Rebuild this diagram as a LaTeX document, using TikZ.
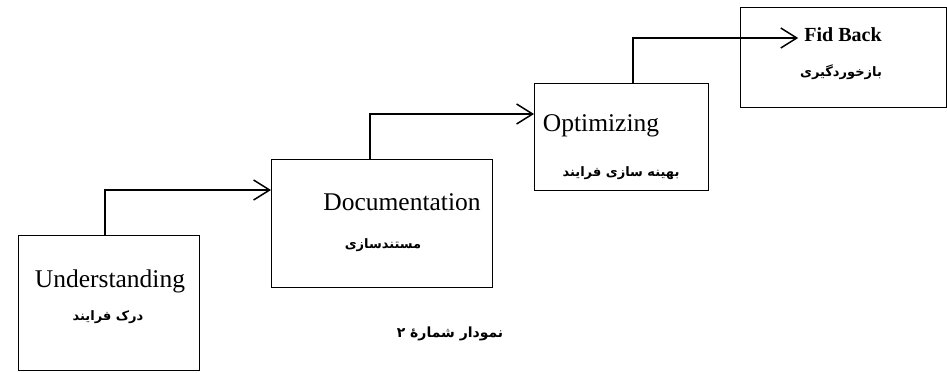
\documentclass[tikz,border=0pt]{standalone}
\usepackage{fontspec}
\setmainfont{Liberation Serif}
\newfontfamily\fa[Script=Arabic]{DejaVu Sans}
\TeXXeTstate=1
\usetikzlibrary{arrows.meta,calc}
\tikzset{
  box/.style={draw,line width=1pt,inner sep=0pt,anchor=north west},
  en/.style={font=\fontsize{25.5}{28}\selectfont,anchor=base,inner sep=0pt},
  enb/.style={font=\fontsize{20}{22}\bfseries\selectfont,anchor=base,inner sep=0pt},
  fa/.style={font=\fa\bfseries\fontsize{13}{15}\selectfont,inner sep=0pt},
  arr/.style={line width=1.5pt,-{Straight Barb[length=16pt,width=20pt,line width=1.5pt]}}
}
\begin{document}
\begin{tikzpicture}[x=1pt,y=-1pt]
\useasboundingbox (0,0) rectangle (947,372);
\node[box,minimum width=181pt,minimum height=135pt] (b1) at (18,235) {};
\node[box,minimum width=221pt,minimum height=128pt] (b2) at (271,159) {};
\node[box,minimum width=174pt,minimum height=107pt] (b3) at (534,83) {};
\node[box,minimum width=206pt,minimum height=100pt] (b4) at (740,7) {};
\node[en] (t1) at (110,287) {Understanding};
\node[fa] (p1) at (108,317) {\beginR درک فرایند\endR};
\node[en] (t2) at (402,210) {Documentation};
\node[fa] (p2) at (383,245) {\beginR مستندسازی\endR};
\node[en] (t3) at (601,131) {Optimizing};
\node[fa] (p3) at (621,173) {\beginR بهینه سازی فرایند\endR};
\node[enb] (t4) at (843,41) {Fid Back};
\node[fa] (p4) at (841,72) {\beginR بازخوردگیری\endR};
\node[fa,font=\fa\bfseries\fontsize{14}{16}\selectfont] (cap) at (450,334) {\beginR نمودار شمارهٔ ۲\endR};
\coordinate (s1) at ($(b1.north west)+(87,0)$);
\coordinate (s2) at ($(b2.north west)+(99,0)$);
\coordinate (s3) at ($(b3.north west)+(99,0)$);
\coordinate (e1) at ($(b2.north west)+(0,31)$);
\coordinate (e2) at ($(b3.north west)+(0,31)$);
\coordinate (e3) at ($(t4.base west)+(-6,-3)$);
\draw[arr] (s1) |- (e1);
\draw[arr] (s2) |- (e2);
\draw[arr] (s3) |- (e3);
\end{tikzpicture}
\end{document}
